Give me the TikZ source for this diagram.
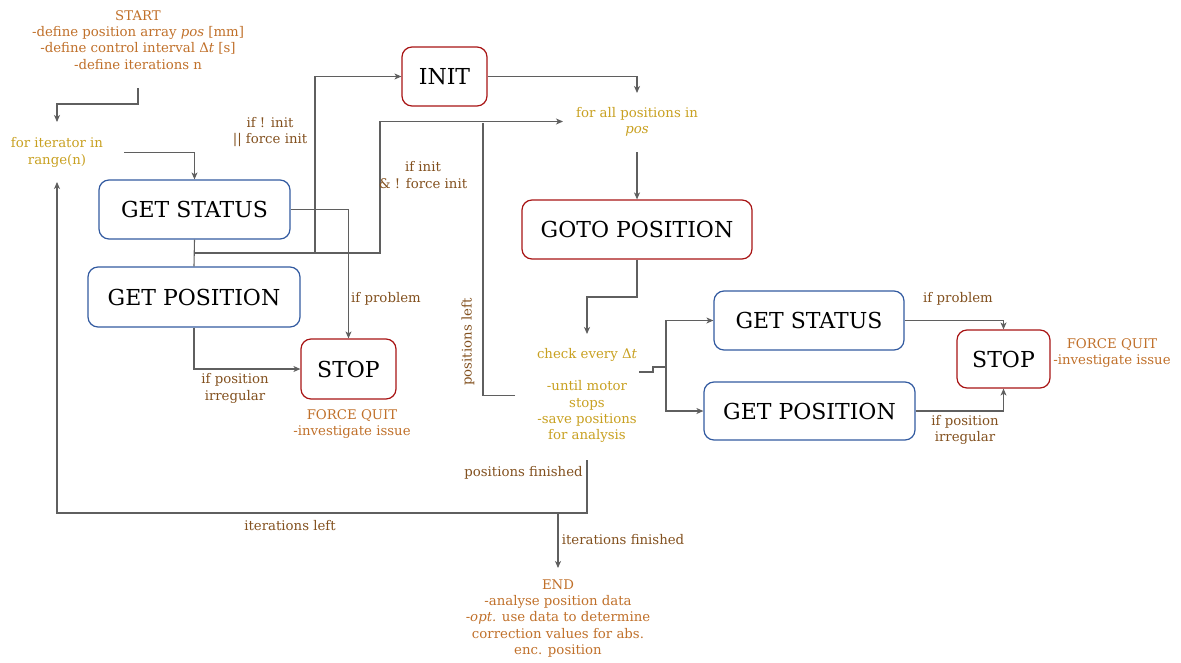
\documentclass[tikz,border=0pt]{standalone}
\usepackage{fontspec}
\setmainfont{DejaVu Serif}
\usetikzlibrary{arrows.meta}

\definecolor{notecol}{RGB}{192,112,42}
\definecolor{lblcol}{RGB}{130,80,30}
\definecolor{loopcol}{RGB}{200,160,32}
\definecolor{boxblue}{RGB}{50,90,160}
\definecolor{boxred}{RGB}{168,20,20}
\definecolor{wirecol}{RGB}{95,95,95}

\begin{document}
\begin{tikzpicture}[x=1pt,y=-1pt,
  box/.style={draw, rounded corners=10pt, line width=1.2pt, inner sep=0pt,
    font=\fontsize{22}{26}\selectfont, text=black},
  bluebox/.style={box, draw=boxblue},
  redbox/.style={box, draw=boxred},
  txt/.style={inner sep=0pt, align=center, font=\fontsize{13.3}{16.3}\selectfont},
  note/.style={txt, text=notecol},
  lbl/.style={txt, text=lblcol},
  loop/.style={txt, text=loopcol},
  wire/.style={draw=wirecol, line width=1.1pt},
  flow/.style={wire, -{Stealth[length=7pt,width=6pt,inset=2pt]}}]

\useasboundingbox (0,0) rectangle (1181,662);

% ---- text blocks ----
\node[note] (start) at (138,40) {START\\-define position array \textit{pos} [mm]\\-define control interval Δ\textit{t} [s]\\-define iterations n};
\node[loop] (forit) at (57,152.5) {for iterator in\\range(n)};
\node[loop] (forall) at (637,121.5) {for all positions in\\\textit{pos}};
\node[loop] (check) at (587,395.5) {check every Δ\textit{t}\\[16.3pt]-until motor\\stops\\-save positions\\for analysis};
\node[note] (end) at (558,618.5) {END\\-analyse position data\\-\textit{opt.} use data to determine\\correction values for abs.\\enc. position};
\node[note] (fq1) at (352,424) {FORCE QUIT\\-investigate issue};
\node[note] (fq2) at (1112,353) {FORCE QUIT\\-investigate issue};

% ---- process boxes ----
\node[bluebox, minimum width=191pt, minimum height=59pt] (gs1) at (194.5,209.5) {GET STATUS};
\node[bluebox, minimum width=212pt, minimum height=60pt] (gp1) at (194,297) {GET POSITION};
\node[redbox, minimum width=95pt, minimum height=60pt] (stop1) at (348.5,369) {STOP};
\node[redbox, minimum width=85pt, minimum height=59pt] (init) at (444.5,76.5) {INIT};
\node[redbox, minimum width=230pt, minimum height=59pt] (goto) at (637,229.5) {GOTO POSITION};
\node[bluebox, minimum width=190pt, minimum height=59pt] (gs2) at (809,320.5) {GET STATUS};
\node[bluebox, minimum width=211pt, minimum height=58pt] (gp2) at (809.5,411) {GET POSITION};
\node[redbox, minimum width=93pt, minimum height=58pt] (stop2) at (1003.5,359) {STOP};

% ---- junction points ----
\coordinate (fork) at (194,253);
\coordinate (chkout) at (639,372);
\coordinate (split) at (666,367);

% ---- connectors ----
\draw[flow] (start.south |- 0,88) -- (start.south |- 0,104) -| (forit.north |- 0,122);
\draw[flow] (forit.east -| 124,0) -| (gs1.north);
\draw[wire] (gs1.south) -- (gp1.north);
\draw[flow] (fork) -- (315,253) |- (init.west);
\draw[flow] (fork) -- (380,253) |- (forall.west -| 563,0);
\draw[wire] (check.west -| 515,0) -| (483,123);
\draw[flow] (init.east) -| (forall.north |- 0,93);
\draw[flow] (forall.south |- 0,152) -- (goto.north);
\draw[flow] (goto.south) -- (goto.south |- 0,297) -| (check.north |- 0,334);
\draw[wire] (chkout) -- (653,372) -- (653,367) -- (split);
\draw[flow] (split) |- (gs2.west);
\draw[flow] (split) |- (gp2.west);
\draw[flow] (gs1.east) -| (stop1.north);
\draw[flow] (gp1.south) |- (stop1.west);
\draw[flow] (gs2.east) -| (stop2.north);
\draw[flow] (gp2.east) -| (stop2.south);
\draw[flow] (check.south |- 0,460) -- (check.south |- 0,513) -| (forit.south |- 0,182);
\draw[flow] (end.north |- 0,513) -- (end.north |- 0,568);

% ---- connector labels ----
\node[lbl] (l1) at (270,132) {if ! init\\|| force init};
\node[lbl] (l2) at (423,175) {if init\\\& ! force init};
\node[lbl] (l3) at (386,299) {if problem};
\node[lbl] (l4) at (235,388.5) {if position\\irregular};
\node[lbl, rotate=90] (l5) at (468,342) {positions left};
\node[lbl] (l6) at (523.5,473) {positions finished};
\node[lbl] (l7) at (290,526) {iterations left};
\node[lbl] (l8) at (623,540) {iterations finished};
\node[lbl] (l9) at (958,299) {if problem};
\node[lbl] (l10) at (965,430) {if position\\irregular};
\end{tikzpicture}
\end{document}
